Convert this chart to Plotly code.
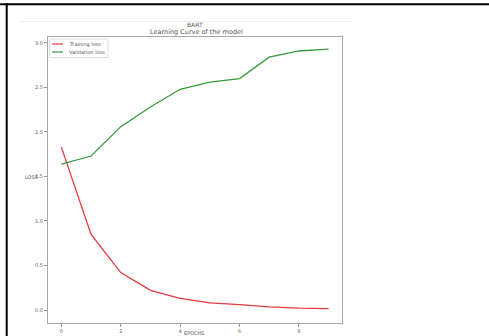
import plotly.graph_objects as go

epochs = list(range(10))
training_loss = [1.83, 0.85, 0.42, 0.22, 0.13, 0.08, 0.06, 0.035, 0.02, 0.015]
validation_loss = [1.64, 1.73, 2.06, 2.28, 2.48, 2.56, 2.60, 2.84, 2.91, 2.93]
x_ticks = [0, 2, 4, 6, 8]
y_ticks = [0.0, 0.5, 1.0, 1.5, 2.0, 2.5, 3.0]
y_tick_labels = ["0.0", "0.5", "1.0", "1.5", "2.0", "2.5", "3.0"]
series_names = ["Training loss", "Validation loss"]
series_colors = ["#e8383d", "#3a9a3a"]

L, R, T, B = 48, 147, 37, 13
W, H = 489, 336
pw, ph = W - L - R, H - T - B

def px(x):
    return (x - L) / pw

def py(y):
    return (H - B - y) / ph

FONT = "DejaVu Sans"

fig = go.Figure()
for name, vals, col in zip(series_names, [training_loss, validation_loss], series_colors):
    fig.add_trace(go.Scatter(x=epochs, y=vals, mode="lines", name=name,
                             line=dict(color=col, width=1.3)))

axis_common = dict(showgrid=False, zeroline=False, showline=True, linecolor="#a8a8a8",
                   linewidth=1, mirror=True, ticks="outside", ticklen=3, tickcolor="#999",
                   automargin=False,
                   tickfont=dict(size=5, color="#666", family=FONT))
fig.update_xaxes(range=[-0.45, 9.45], tickvals=x_ticks, **axis_common)
fig.update_yaxes(range=[-0.146, 3.067], tickvals=y_ticks, ticktext=y_tick_labels, **axis_common)

shapes = [
    dict(type="line", xref="paper", yref="paper", x0=px(0), x1=px(W), y0=py(4.3), y1=py(4.3),
         line=dict(color="black", width=2)),
    dict(type="line", xref="paper", yref="paper", x0=px(6.7), x1=px(6.7), y0=py(3.3), y1=py(H),
         line=dict(color="black", width=2)),
    dict(type="line", xref="paper", yref="paper", x0=px(20), x1=px(353), y0=py(21.5), y1=py(21.5),
         line=dict(color="#eeeeee", width=1)),
    # legend box
    dict(type="rect", xref="paper", yref="paper", x0=px(49.5), x1=px(108), y0=py(39), y1=py(57.5),
         line=dict(color="#dddddd", width=1), fillcolor="rgba(255,255,255,0.9)"),
]

def ann(text, x, y, size, xanchor="center"):
    return dict(text=text, xref="paper", yref="paper", x=px(x), y=py(y), showarrow=False,
                xanchor=xanchor, yanchor="middle",
                font=dict(size=size, color="#555", family=FONT))

annotations = [
    ann("BART", 195, 24.5, 6),
    ann("Learning Curve of the model", 196, 32, 6.5),
    ann("LOSS", 31.5, 177, 5),
    ann("EPOCHS", 194, 332.5, 5),
]
for i, (name, col) in enumerate(zip(series_names, series_colors)):
    yy = 44 + 8 * i
    shapes.append(dict(type="line", xref="paper", yref="paper", x0=px(52), x1=px(63),
                       y0=py(yy), y1=py(yy), line=dict(color=col, width=1.2)))
    annotations.append(ann(name, 67, yy, 5, xanchor="left"))

fig.update_layout(
    width=W, height=H,
    margin=dict(l=L, r=R, t=T, b=B, autoexpand=False),
    paper_bgcolor="white", plot_bgcolor="white",
    showlegend=False,
    shapes=shapes,
    annotations=annotations,
)

fig.write_html("out.html", config={"displayModeBar": False},
               post_script="document.body.style.margin='0';")
